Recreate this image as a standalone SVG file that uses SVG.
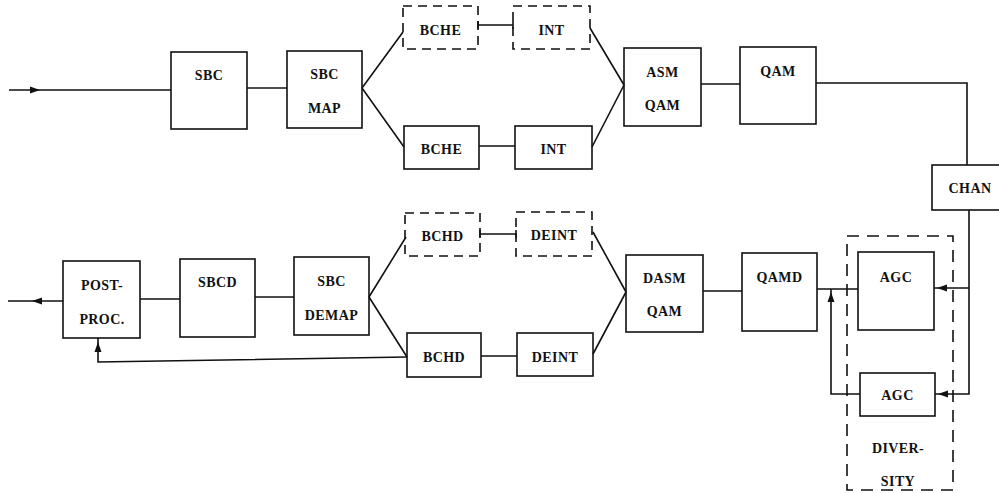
<svg xmlns="http://www.w3.org/2000/svg" width="999" height="493" viewBox="0 0 999 493">
<style>
.box{fill:none;stroke:#111;stroke-width:1.6}
.dbox{fill:none;stroke:#111;stroke-width:1.6;stroke-dasharray:9 6}
.lbl{font-family:"Liberation Serif","DejaVu Serif",serif;font-weight:bold;font-size:14px;text-anchor:middle;fill:#111;letter-spacing:0.4px}
.ln{fill:none;stroke:#111;stroke-width:1.6}
</style>
<defs>
<path id="ah" d="M0,0 L-10,-3.5 L-10,3.5 Z" fill="#111"/>
</defs>
<rect width="999" height="493" fill="#fff"/>

<g id="sbc"><rect class="box" x="171" y="52" width="76" height="77"/><text class="lbl" x="209" y="80">SBC</text></g>
<g id="sbcmap"><rect class="box" x="287" y="51" width="75" height="77"/><text class="lbl" x="324.5" y="79">SBC</text><text class="lbl" x="324.5" y="113">MAP</text></g>
<g id="bche-opt"><rect class="dbox" x="403" y="6" width="75" height="43"/><text class="lbl" x="440.5" y="35">BCHE</text></g>
<g id="int-opt"><rect class="dbox" x="513" y="6" width="77" height="43"/><text class="lbl" x="551.5" y="35">INT</text></g>
<g id="bche"><rect class="box" x="404" y="126" width="75" height="43"/><text class="lbl" x="441.5" y="154">BCHE</text></g>
<g id="int"><rect class="box" x="515" y="126" width="77" height="43"/><text class="lbl" x="553.5" y="154">INT</text></g>
<g id="asmqam"><rect class="box" x="624" y="48" width="77" height="78"/><text class="lbl" x="662.5" y="77">ASM</text><text class="lbl" x="662.5" y="110">QAM</text></g>
<g id="qam"><rect class="box" x="740" y="47" width="76" height="77"/><text class="lbl" x="778" y="76">QAM</text></g>
<g id="chan"><rect class="box" x="932" y="165" width="70" height="45"/><text class="lbl" x="970" y="193">CHAN</text></g>

<g id="postproc"><rect class="box" x="63" y="261" width="77" height="77"/><text class="lbl" x="102" y="290">POST-</text><text class="lbl" x="102" y="324">PROC.</text></g>
<g id="sbcd"><rect class="box" x="180" y="259" width="75" height="78"/><text class="lbl" x="217.5" y="287">SBCD</text></g>
<g id="sbcdemap"><rect class="box" x="294" y="257" width="75" height="78"/><text class="lbl" x="331.5" y="286">SBC</text><text class="lbl" x="331.5" y="320">DEMAP</text></g>
<g id="bchd-opt"><rect class="dbox" x="405" y="213" width="75" height="43"/><text class="lbl" x="442.5" y="241">BCHD</text></g>
<g id="deint-opt"><rect class="dbox" x="516" y="212" width="76" height="44"/><text class="lbl" x="554" y="240">DEINT</text></g>
<g id="bchd"><rect class="box" x="407" y="333" width="74" height="44"/><text class="lbl" x="444" y="362">BCHD</text></g>
<g id="deint"><rect class="box" x="517" y="333" width="76" height="43"/><text class="lbl" x="555" y="362">DEINT</text></g>
<g id="dasmqam"><rect class="box" x="626" y="255" width="77" height="77"/><text class="lbl" x="664.5" y="283">DASM</text><text class="lbl" x="664.5" y="316">QAM</text></g>
<g id="qamd"><rect class="box" x="742" y="253" width="75" height="78"/><text class="lbl" x="779.5" y="282">QAMD</text></g>
<g id="agc1"><rect class="box" x="858" y="252" width="76" height="78"/><text class="lbl" x="896" y="282">AGC</text></g>
<g id="agc2"><rect class="box" x="860" y="373" width="75" height="43"/><text class="lbl" x="897.5" y="400">AGC</text></g>
<g id="diversity"><rect class="dbox" x="847" y="236" width="106" height="254" style="stroke-dasharray:12 8"/><text class="lbl" x="898" y="453">DIVER-</text><text class="lbl" x="898" y="486">SITY</text></g>

<g id="connectors">
<path class="ln" d="M9,90 H171"/>
<use href="#ah" transform="translate(40,90)"/>
<path class="ln" d="M247,88 H287"/>
<path class="ln" d="M362,88 L403,32 M362,88 L404,147"/>
<path class="ln" d="M478,25 H513 M478,21 v8 M513,21 v8"/>
<path class="ln" d="M479,146 H515"/>
<path class="ln" d="M590,28 L624,85 M592,147 L624,85"/>
<path class="ln" d="M701,84 H740"/>
<path class="ln" d="M816,83 H967 V165"/>
<path class="ln" d="M969,210 V394 H935 M969,288 H934"/>
<use href="#ah" transform="translate(937,288) rotate(180)"/>
<use href="#ah" transform="translate(938,394) rotate(180)"/>
<path class="ln" d="M858,289 H817 M831,289 V394 H860"/>
<use href="#ah" transform="translate(831,292) rotate(-90)"/>
<path class="ln" d="M703,291 H742"/>
<path class="ln" d="M593,232 L626,292 M593,354 L626,292"/>
<path class="ln" d="M481,356 H517"/>
<path class="ln" d="M480,234 H516 M480,230 v8 M516,230 v8"/>
<path class="ln" d="M369,297 L406,237 M369,297 L407,357"/>
<path class="ln" d="M407,357 L98,362 V338"/>
<use href="#ah" transform="translate(98,342) rotate(-90)"/>
<path class="ln" d="M255,297 H294"/>
<path class="ln" d="M140,299 H180"/>
<path class="ln" d="M63,301 H8"/>
<use href="#ah" transform="translate(32,301) rotate(180)"/>
</g>
</svg>
